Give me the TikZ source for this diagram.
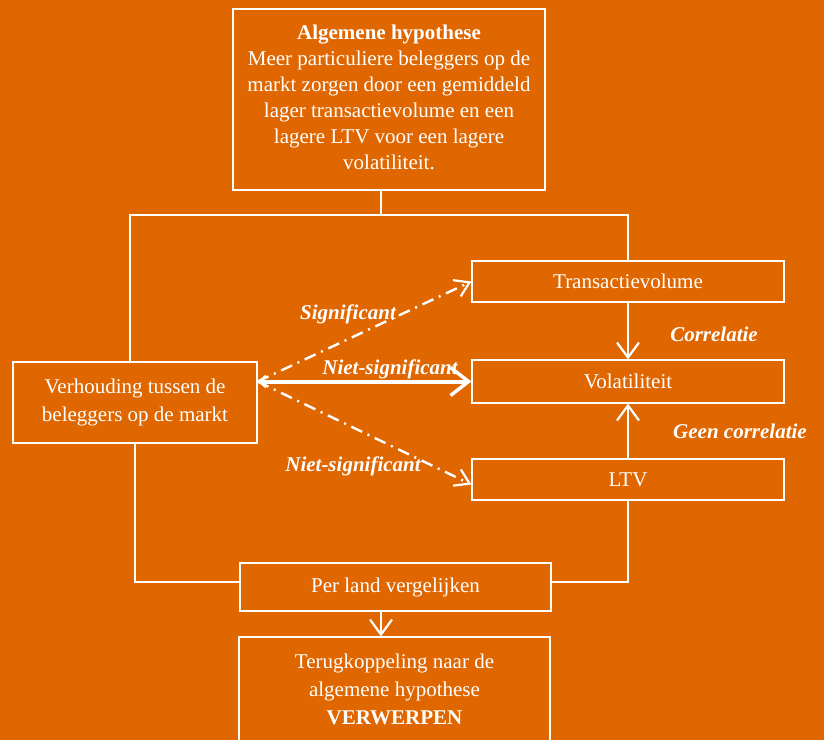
\documentclass[tikz,border=0pt]{standalone}
\usepackage{fontspec}
\setmainfont{Liberation Serif}
\usetikzlibrary{arrows.meta, positioning, calc}
\definecolor{bgorange}{RGB}{224,102,0}

\begin{document}
\begin{tikzpicture}[
    x=1pt, y=-1pt,
    box/.style={draw=white, line width=1.2pt, text=white, align=center, inner sep=0pt, font=\fontsize{21}{26}\selectfont},
    link/.style={draw=white, line width=1.2pt},
    arr/.style={-{Straight Barb[length=15pt,width=22pt,line width=2.2pt]}, white, line width=2.2pt},
    fat/.style={{Straight Barb[length=7pt,width=12pt,line width=1.8pt]}-{Straight Barb[length=18pt,width=28pt,line width=3.5pt]}, white, line width=4pt},
    dasharr/.style={-{Straight Barb[length=14pt,width=18pt,line width=2.2pt]}, white, line width=2.4pt, dash pattern=on 12pt off 6pt on 2pt off 6pt},
    lbl/.style={text=white, font=\fontsize{21}{26}\selectfont\bfseries\itshape},
  ]
  \useasboundingbox (0,0) rectangle (824,740);
  \fill[bgorange] (0,0) rectangle (824,740);
  % boxes
  \node[box, minimum width=312, minimum height=181, text depth=4pt] (hyp) at (389,99.5)
    {\textbf{Algemene hypothese}\\Meer particuliere beleggers op de\\markt zorgen door een gemiddeld\\lager transactievolume en een\\lagere LTV voor een lagere\\volatiliteit.};
  \node[box, minimum width=312, minimum height=41] (trans) at (628,281.5) {Transactievolume};
  \node[box, minimum width=312, minimum height=43] (vol) at (628,381.5) {Volatiliteit};
  \node[box, minimum width=312, minimum height=41] (ltv) at (628,479.5) {LTV};
  \node[box, minimum width=244, minimum height=81, font=\fontsize{21}{28}\selectfont] (verh) at (135,402.5)
    {Verhouding tussen de\\beleggers op de markt};
  \node[box, minimum width=311, minimum height=48] (perland) at (395.5,587) {Per land vergelijken};
  \node[box, minimum width=311, minimum height=104, font=\fontsize{21}{28}\selectfont] (terug) at (394.5,689)
    {Terugkoppeling naar de\\algemene hypothese\\\textbf{VERWERPEN}};
  % tree lines
  \coordinate (fork) at (381,215);
  \draw[link] (fork |- hyp.south) -- (fork);
  \draw[link] ([xshift=-5pt]verh.north) |- (fork) -| (trans.north);
  \draw[link] (verh.south) |- ([yshift=5pt]perland.west);
  \draw[link] (ltv.south) |- ([yshift=5pt]perland.east);
  \draw[arr] (perland.south -| fork) -- (terug.north -| fork);
  % relations
  \coordinate (src) at (vol.west -| verh.east);
  \draw[fat] (src) -- (vol.west);
  \draw[dasharr] (src) -- (trans.west);
  \draw[dasharr] (src) -- ([yshift=-5pt]ltv.west);
  \draw[arr] (trans) -- (vol);
  \draw[arr] (ltv) -- (vol);
  % labels
  \node[lbl] (sig) at (348,314) {Significant};
  \node[lbl] (nsig1) at (390,369) {Niet-significant};
  \node[lbl] (nsig2) at (353,466) {Niet-significant};
  \node[lbl] (corr) at (714,334) {Correlatie};
  \node[lbl] (gcorr) at (740,431) {Geen correlatie};
\end{tikzpicture}
\end{document}
